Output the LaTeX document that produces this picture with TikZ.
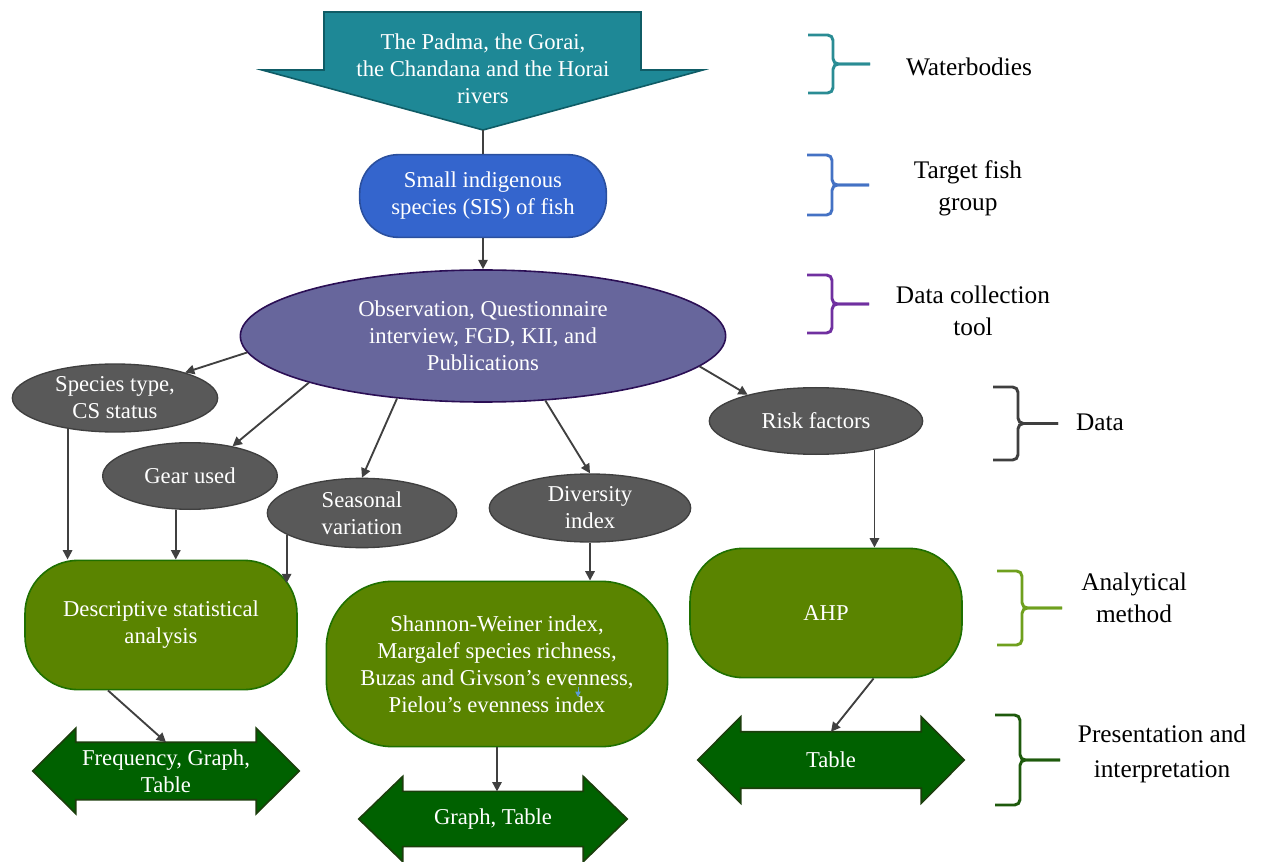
\documentclass[tikz,border=0pt]{standalone}
\usepackage{fontspec}
\setmainfont{Liberation Serif}
\newfontfamily\diagramfont{Liberation Serif}
\usetikzlibrary{calc,arrows.meta,shapes.geometric,backgrounds}

\definecolor{riverteal}{HTML}{1E8896}
\definecolor{riveredge}{HTML}{0F5C66}
\definecolor{sisblue}{HTML}{3465CD}
\definecolor{sisedge}{HTML}{2A4F9E}
\definecolor{toolpurple}{HTML}{67669C}
\definecolor{tooledge}{HTML}{2B0F55}
\definecolor{datagray}{HTML}{595959}
\definecolor{dataedge}{HTML}{3F3F3F}
\definecolor{methodgreen}{HTML}{5A8400}
\definecolor{methodedge}{HTML}{1F7000}
\definecolor{outgreen}{HTML}{006100}
\definecolor{outedge}{HTML}{1B3E0C}
\definecolor{linkgray}{HTML}{404040}
\definecolor{braceteal}{HTML}{2A8C94}
\definecolor{braceblue}{HTML}{4472C4}
\definecolor{bracepurple}{HTML}{7030A0}
\definecolor{bracegray}{HTML}{3F3F3F}
\definecolor{bracelime}{HTML}{6FA01E}
\definecolor{bracegreen}{HTML}{1E5A0C}
\definecolor{cursorblue}{HTML}{5B9BD5}

\tikzset{
  every node/.style={font=\diagramfont\fontsize{17}{20.25}\selectfont, align=center},
  sidetext/.style={font=\diagramfont\fontsize{19}{24}\selectfont, text=black},
  shapetext/.style={text=white, inner sep=0pt},
  sisshape/.style={rectangle, rounded corners=29pt, draw=sisedge, fill=sisblue, line width=1.2pt, text=white},
  toolshape/.style={ellipse, draw=tooledge, fill=toolpurple, line width=1.2pt, text=white, inner sep=0pt},
  datashape/.style={ellipse, draw=dataedge, fill=datagray, line width=1pt, text=white, inner sep=-3pt},
  methodshape/.style={rectangle, rounded corners=40pt, draw=methodedge, fill=methodgreen, line width=1.2pt, text=white},
  outbody/.style={rectangle, text=white, inner sep=0pt, minimum width=135pt},
  outline/.style={draw=outedge, fill=outgreen, line width=1.2pt},
  link/.style={draw=linkgray, line width=1.4pt},
  linkarrow/.style={link, -{Triangle[length=7pt,width=7pt]}},
  bracestroke/.style={line width=2.2pt, rounded corners=4pt},
}

% two-headed output arrow round a body node: node, head length, head extend
\newcommand\outarrow[3]{%
  \begin{pgfonlayer}{background}
  \draw[outline] ($(#1.west)+(-#2,0)$) -- ($(#1.north west)+(0,-#3)$) -- (#1.north west)
    -- (#1.north east) -- ($(#1.north east)+(0,-#3)$) -- ($(#1.east)+(#2,0)$)
    -- ($(#1.south east)+(0,#3)$) -- (#1.south east) -- (#1.south west)
    -- ($(#1.south west)+(0,#3)$) -- cycle;
  \end{pgfonlayer}}

% side brace: colour, left x, top y, bottom y, stem end x
\newcommand\sidebrace[5]{%
  \pgfmathsetmacro\bracemid{(#3+#4)/2}
  \draw[bracestroke, #1] (#2,#3) -- (#2+25,#3) -- (#2+25,\bracemid) -- (#5,\bracemid);
  \draw[bracestroke, #1] (#2,#4) -- (#2+25,#4) -- (#2+25,\bracemid) -- (#5,\bracemid);}

\begin{document}
\begin{tikzpicture}[x=0.75pt, y=-0.75pt]
  %%%%% START %%%%%
  \useasboundingbox (0,0) rectangle (1266,862);

  \draw[draw=riveredge, fill=riverteal, line width=1.2pt] (324,12) -- (641,12) -- (641,70) -- (703,70)
    -- (483,130) -- (262,70) -- (324,70) -- cycle;
  \node[shapetext] (rivers) at (483,69) {The Padma, the Gorai,\\the Chandana and the Horai\\rivers};
  \coordinate (rivertip) at (483,130);

  \node[sisshape, minimum width=185pt, minimum height=62pt] (sis) at (483,196) {Small indigenous\\species (SIS) of fish};
  \node[toolshape, minimum width=364pt, minimum height=99pt] (tool) at (483,336) {Observation, Questionnaire\\interview, FGD, KII, and\\Publications};

  \node[datashape, minimum width=154pt, minimum height=51pt] (species) at (115,398) {Species type,\\CS status};
  \node[datashape, minimum width=131pt, minimum height=50pt] (gear) at (190,476) {Gear used};
  \node[datashape, minimum width=142pt, minimum height=52pt] (seasonal) at (362,513) {Seasonal\\variation};
  \node[datashape, minimum width=151pt, minimum height=51pt] (diversity) at (590,508) {Diversity\\index};
  \node[datashape, minimum width=160pt, minimum height=50pt] (risk) at (816,421) {Risk factors};

  \node[methodshape, minimum width=204pt, minimum height=97pt] (desc) at (161,625) {Descriptive statistical\\analysis};
  \node[methodshape, rounded corners=50pt, minimum width=256pt, minimum height=124pt] (indices) at (497,664) {Shannon-Weiner index,\\Margalef species richness,\\Buzas and Givson’s evenness,\\Pielou’s evenness index};
  \node[methodshape, minimum width=204pt, minimum height=97pt] (ahp) at (826,613) {AHP};

  \node[outbody, minimum height=42.75pt] (freq) at (166,771) {Frequency, Graph,\\Table};
  \node[outbody, minimum height=41pt] (graphs) at (493,819) {Graph, Table};
  \node[outbody, minimum height=42pt] (tables) at (831,760) {Table};
  \outarrow{freq}{43}{14}
  \outarrow{graphs}{44}{15}
  \outarrow{tables}{43}{15}

  % connectors
  \draw[link] (rivertip) -- (sis.north);
  \draw[linkarrow] (sis.south) -- (tool.north);
  \draw[linkarrow] (tool.184) -- (species.20);
  \draw[linkarrow] (tool.195) -- (gear.35);
  \draw[linkarrow] (tool.216) -- (seasonal.north);
  \draw[linkarrow] (tool.314) -- (diversity.north);
  \draw[linkarrow] (tool.352) -- (risk.159);
  \draw[linkarrow] (species.213) -- (species.213 |- desc.north);
  \draw[linkarrow] (gear.247) -- (gear.247 |- desc.north);
  \draw[linkarrow] (seasonal.196) -- (seasonal.196 |- desc.17);
  \draw[linkarrow] (diversity.south) -- (diversity.south |- indices.north);
  \draw[linkarrow] (risk.334) -- (risk.334 |- ahp.north);
  \draw[linkarrow] (desc.231) -- (freq.north);
  \draw[linkarrow] (indices.south) -- (indices.south |- graphs.north);
  \draw[linkarrow] (ahp.306) -- (tables.north);

  \draw[draw=cursorblue, line width=0.6pt, -{Triangle[length=4pt,width=4pt]}] (578,687) -- (578,697);

  % side braces and their labels
  \sidebrace{braceteal}{808}{35}{93}{870}
  \sidebrace{braceblue}{807}{155}{215}{869}
  \sidebrace{bracepurple}{807}{275}{333}{869}
  \sidebrace{bracegray}{993}{387}{460}{1058}
  \sidebrace{bracelime}{997}{571}{645}{1062}
  \sidebrace{bracegreen}{995}{715}{805}{1060}

  \node[sidetext] (waterbodies) at (969,67) {Waterbodies};
  \node[sidetext] (fishgroup) at (968,188) {Target fish\\group};
  \node[sidetext] (collection) at (973,311) {Data collection\\tool};
  \node[sidetext] (datalabel) at (1100,422) {Data};
  \node[sidetext] (method) at (1134,598) {Analytical\\method};
  \node[sidetext, font=\diagramfont\fontsize{19}{26}\selectfont] (presentation) at (1162,754) {Presentation and\\interpretation};

  %%%%% END %%%%%
\end{tikzpicture}
\end{document}
